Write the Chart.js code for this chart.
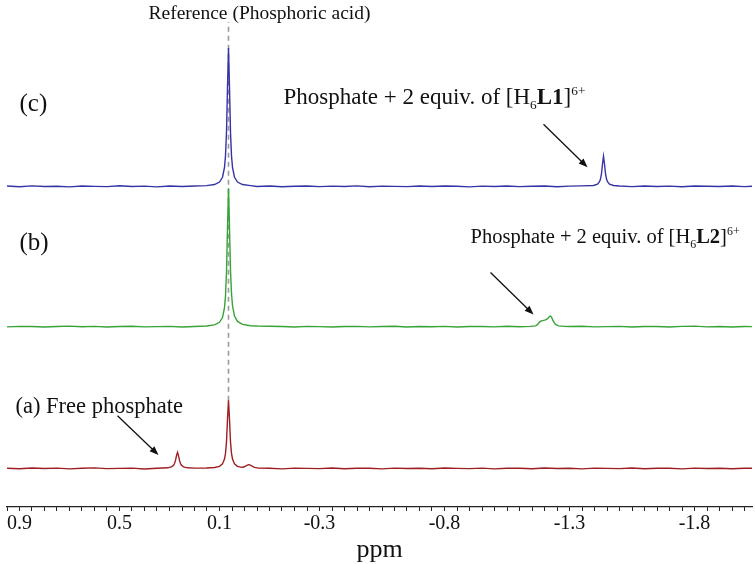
<!DOCTYPE html>
<html>
<head>
<meta charset="utf-8">
<script src="https://cdn.jsdelivr.net/npm/chart.js@4.4.1/dist/chart.umd.min.js"></script>
<style>
  body { margin: 0; background: #fff; }
  #wrap { width: 755px; height: 564px; position: relative; }
</style>
</head>
<body>
<div id="wrap"><canvas id="nmr"></canvas></div>
<script>
// x axis (ppm), labelled ticks
const majorTicks = [0.9, 0.5, 0.1, -0.3, -0.8, -1.3, -1.8];

// baseline sampling (ppm) and small noise for each spectrum
const baseGrid = [0.95,0.90,0.85,0.80,0.75,0.70,0.65,0.60,0.55,0.50,
  0.45,0.40,0.35,0.30,0.25,0.20,0.15,0.10,0.05,0.00,
  -0.05,-0.10,-0.15,-0.20,-0.25,-0.30,-0.35,-0.40,-0.45,-0.50,
  -0.55,-0.60,-0.65,-0.70,-0.75,-0.80,-0.85,-0.90,-0.95,-1.00,
  -1.05,-1.10,-1.15,-1.20,-1.25,-1.30,-1.35,-1.40,-1.45,-1.50,
  -1.55,-1.60,-1.65,-1.70,-1.75,-1.80,-1.85,-1.90,-1.95,-2.00,-2.03];
const noiseA = [0.2,-0.3,0.4,-0.1,0.3,-0.4,0.1,0.5,-0.2,0.0,
  0.3,-0.5,0.2,-0.1,0.4,0.3,-0.2,0.1,0.6,0.2,
  -0.3,0.1,-0.4,0.3,0.0,-0.2,0.4,-0.3,0.2,0.1,
  -0.4,0.3,-0.1,0.2,-0.3,0.4,0.0,-0.2,0.3,-0.4,
  0.2,0.1,-0.3,0.4,-0.1,0.2,-0.4,0.3,0.0,-0.2,
  0.4,-0.3,0.1,0.2,-0.4,0.3,-0.1,0.2,-0.3,0.1,0.2];
const noiseB = [-0.2,0.3,0.1,-0.4,0.2,0.5,-0.1,0.3,-0.3,0.1,
  0.4,-0.2,0.0,0.3,-0.4,0.2,0.1,-0.3,0.4,-0.1,
  0.6,0.4,0.2,-0.3,0.3,0.0,-0.4,0.2,0.3,-0.2,
  0.1,0.4,-0.3,0.2,-0.1,0.3,-0.4,0.1,0.2,-0.2,
  0.4,-0.1,0.3,0.2,-0.3,0.1,0.4,-0.2,0.0,0.3,
  -0.4,0.2,0.1,-0.3,0.3,0.5,-0.2,0.1,-0.3,0.2,0.0];
const noiseC = [0.3,-0.4,0.5,-0.2,0.1,-0.5,0.4,0.0,-0.3,0.6,
  -0.1,0.2,-0.5,0.3,-0.2,0.4,0.1,-0.3,0.2,0.5,
  -0.2,0.3,-0.4,0.1,0.4,-0.3,0.2,-0.1,0.5,-0.4,
  0.2,0.0,-0.3,0.4,-0.2,0.3,0.1,-0.5,0.2,-0.1,
  0.4,-0.3,0.1,0.3,-0.4,0.2,0.5,-0.2,0.0,0.3,
  -0.3,0.4,-0.1,0.2,-0.4,0.3,0.1,-0.2,0.4,-0.3,0.1];

// peaks (ppm, intensity above baseline)
const refPpm = [0.152,0.120,0.100,0.088,0.080,0.076,0.072,0.068,0.064,0.060,0.056,0.052,0.048,0.040,0.028,0.008,-0.024];
const refIntC = [0.7,1.8,4.3,9.1,19,30.5,54,99,138,99,54,30.5,19,9.1,4.3,1.8,0.7];
const refIntB = [0.7,1.8,4.3,9.1,19,30.5,54,99,138,99,56,33,21,10.5,5.2,2.3,0.9];

const l1Ppm = [-1.396,-1.412,-1.420,-1.424,-1.428,-1.432,-1.436,-1.440,-1.444,-1.448,-1.452,-1.460,-1.476];
const l1Int = [0.85,2.2,4.6,7.3,12.6,22.3,30,22.3,12.6,7.3,4.6,2.2,0.85];

const l2Ppm = [-1.144,-1.164,-1.172,-1.180,-1.188,-1.196,-1.204,-1.212,-1.220,-1.224,-1.228,-1.236,-1.244,-1.256,-1.280];
const l2Int = [0.3,0.8,2,4.5,5.8,6.2,6.8,8,10,10.5,9.5,5,2.2,0.8,0.3];

const freePpm = [0.308,0.292,0.284,0.280,0.276,0.272,0.268,0.264,0.260,0.256,0.252,0.244,0.228];
const freeInt = [0.6,1.6,3.2,4.9,8,12.8,16,12.8,8,4.9,3.2,1.6,0.6];

const refAPpm = [0.152,0.120,0.100,0.088,0.080,0.076,0.072,0.068,0.064,0.060,0.056,0.052,0.048,0.040,0.028,0.016,0.004,-0.004,-0.012,-0.016,-0.022,-0.030,-0.040,-0.056];
const refAInt = [0.4,0.9,2.1,4.5,9.4,15,26.5,49,68,49,26.5,15,9.4,4.5,2.1,1.3,1.2,2.2,3.4,3.8,3.5,2.2,1.0,0.3];

// dashed reference line
const refLinePpm = 0.064;
const refLineY = [106, 484];

const serif = "'Liberation Serif', 'Times New Roman', serif";

function buildTrace(peaks, noise, offset) {
  const pts = [];
  baseGrid.forEach((p, i) => {
    const inside = peaks.some(pk => p <= pk[0][0] && p >= pk[0][pk[0].length - 1]);
    if (!inside) pts.push({ x: p, y: offset + noise[i] });
  });
  peaks.forEach(pk => pk[0].forEach((p, i) => pts.push({ x: p, y: offset + pk[1][i] })));
  return pts.sort((a, b) => b.x - a.x);
}

const minorTicks = [];
for (let v = 0.95; v > -2.02; v -= 0.05) minorTicks.push(Math.round(v * 100) / 100);

// text and arrows, placed in axis units
const labels = [
  { at: [0.384, 487], size: 19.5, parts: [{ t: 'Reference (Phosphoric acid)' }] },
  { at: [0.9, 395], size: 25, parts: [{ t: '(c)' }] },
  { at: [-0.156, 402], size: 23, parts: [{ t: 'Phosphate + 2 equiv. of [H' }, { t: '6', sub: true }, { t: 'L1', bold: true }, { t: ']' }, { t: '6+', sup: true }] },
  { at: [0.9, 256], size: 25, parts: [{ t: '(b)' }] },
  { at: [-0.904, 263], size: 20.5, parts: [{ t: 'Phosphate + 2 equiv. of [H' }, { t: '6', sub: true }, { t: 'L2', bold: true }, { t: ']' }, { t: '6+', sup: true }] },
  { at: [0.916, 94], size: 22.5, parts: [{ t: '(a) Free phosphate' }] }
];
const arrows = [
  [-1.196, 382, -1.372, 339],
  [-0.984, 234, -1.156, 192],
  [0.508, 91, 0.344, 52]
];

function drawRich(ctx, parts, x, y, size) {
  ctx.textBaseline = 'alphabetic';
  ctx.textAlign = 'left';
  ctx.fillStyle = '#111';
  parts.forEach(p => {
    const s = (p.sub || p.sup) ? size * 0.58 : size;
    ctx.font = (p.bold ? 'bold ' : '') + s + 'px ' + serif;
    let dy = 0;
    if (p.sub) dy = size * 0.22;
    if (p.sup) dy = -size * 0.42;
    ctx.fillText(p.t, x, y + dy);
    x += ctx.measureText(p.t).width;
  });
}

function drawArrow(ctx, x1, y1, x2, y2) {
  const ang = Math.atan2(y2 - y1, x2 - x1);
  const len = 9, half = 3.5;
  ctx.strokeStyle = '#111';
  ctx.fillStyle = '#111';
  ctx.lineWidth = 1.3;
  ctx.beginPath();
  ctx.moveTo(x1, y1);
  ctx.lineTo(x2 - Math.cos(ang) * len * 0.8, y2 - Math.sin(ang) * len * 0.8);
  ctx.stroke();
  ctx.beginPath();
  ctx.moveTo(x2, y2);
  ctx.lineTo(x2 - Math.cos(ang) * len - Math.sin(ang) * half, y2 - Math.sin(ang) * len + Math.cos(ang) * half);
  ctx.lineTo(x2 - Math.cos(ang) * len + Math.sin(ang) * half, y2 - Math.sin(ang) * len - Math.cos(ang) * half);
  ctx.closePath();
  ctx.fill();
}

const annotate = {
  id: 'annotate',
  afterDatasetsDraw(chart) {
    const ctx = chart.ctx;
    const xs = chart.scales.x, ys = chart.scales.y;
    ctx.save();
    labels.forEach(l => drawRich(ctx, l.parts, xs.getPixelForValue(l.at[0]), ys.getPixelForValue(l.at[1]), l.size));
    arrows.forEach(a => drawArrow(ctx, xs.getPixelForValue(a[0]), ys.getPixelForValue(a[1]),
      xs.getPixelForValue(a[2]), ys.getPixelForValue(a[3])));
    ctx.restore();
  }
};

const traceStyle = { showLine: true, pointRadius: 0, borderWidth: 1.4, tension: 0, fill: false };

new Chart(document.getElementById('nmr'), {
  type: 'scatter',
  data: {
    datasets: [
      { ...traceStyle, label: '(c)', borderColor: '#3434a6', data: buildTrace([[refPpm, refIntC], [l1Ppm, l1Int]], noiseC, 320) },
      { ...traceStyle, label: '(b)', borderColor: '#38a338', data: buildTrace([[refPpm, refIntB], [l2Ppm, l2Int]], noiseB, 180) },
      { ...traceStyle, label: '(a)', borderColor: '#9e1e22', data: buildTrace([[freePpm, freeInt], [refAPpm, refAInt]], noiseA, 38.5) },
      { ...traceStyle, label: 'ref', borderColor: '#9a9a9a', borderWidth: 1.6, borderDash: [5, 4],
        data: refLineY.map(y => ({ x: refLinePpm, y: y })) }
    ]
  },
  options: {
    responsive: true,
    maintainAspectRatio: false,
    animation: false,
    layout: { padding: { left: 7, right: 3, top: 0, bottom: 0 } },
    plugins: { legend: { display: false }, tooltip: { enabled: false } },
    scales: {
      x: {
        type: 'linear',
        reverse: true,
        min: -2.03,
        max: 0.95,
        afterBuildTicks: axis => { axis.ticks = minorTicks.map(v => ({ value: v })); },
        ticks: {
          autoSkip: false,
          maxRotation: 0,
          padding: 3,
          color: '#111',
          font: { family: serif, size: 20, lineHeight: 1 },
          callback: v => {
            const m = majorTicks.find(t => Math.abs(t - v) < 1e-6);
            return m === undefined ? '' : String(m);
          }
        },
        grid: { display: true, drawOnChartArea: false, drawTicks: true, tickLength: 4, color: '#222' },
        border: { display: true, color: '#222', width: 1.2 },
        title: { display: true, text: 'ppm', color: '#111', font: { family: serif, size: 26, lineHeight: 1 }, padding: { top: 0, bottom: 1 } }
      },
      y: { display: false, min: 0, max: 506 }
    }
  },
  plugins: [annotate]
});
</script>
</body>
</html>
